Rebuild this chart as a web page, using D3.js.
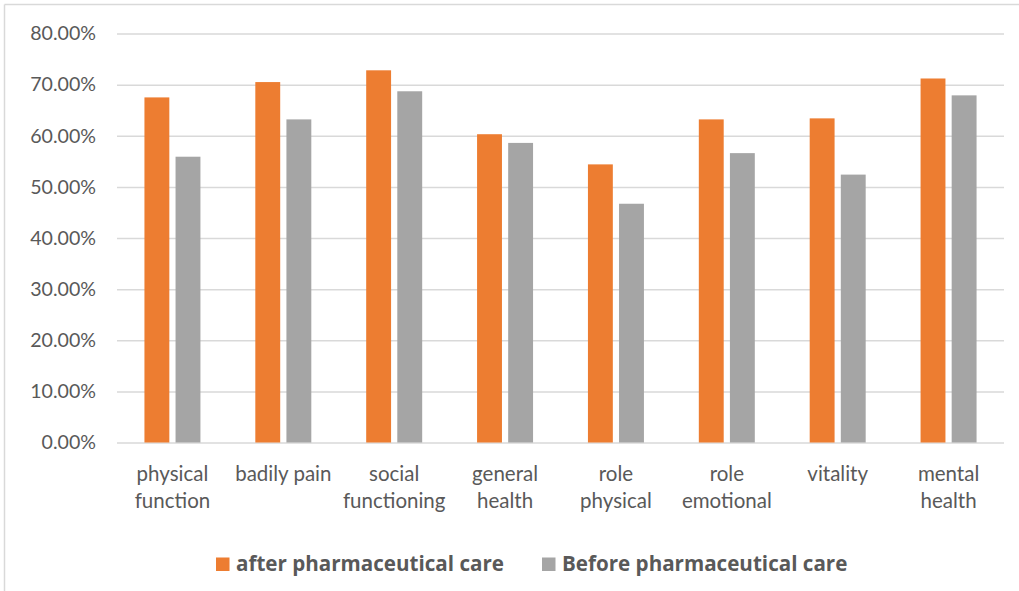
<!DOCTYPE html>
<html>
<head>
<meta charset="utf-8">
<script src="https://cdn.jsdelivr.net/npm/d3@7"></script>
<style>
  html, body { margin: 0; padding: 0; background: #fff; }
  svg { display: block; }
  text { font-family: Lato, "Liberation Sans", sans-serif; }
</style>
</head>
<body>
<svg id="chart" width="1019" height="591"></svg>
<script>
// SF-36 domains (line breaks mark where the axis label wraps)
const categories = [
  "physical\nfunction", "badily pain", "social\nfunctioning", "general\nhealth",
  "role\nphysical", "role\nemotional", "vitality", "mental\nhealth"
];
const seriesNames = ["after pharmaceutical care", "Before pharmaceutical care"];
const afterCare  = [0.675, 0.705, 0.728, 0.603, 0.544, 0.632, 0.634, 0.712];
const beforeCare = [0.559, 0.632, 0.687, 0.586, 0.467, 0.566, 0.524, 0.679];
const yTicks = [0, 0.1, 0.2, 0.3, 0.4, 0.5, 0.6, 0.7, 0.8];
const colors = ["#ED7D31", "#A5A5A5"];

const rows = categories.map((c, i) => ({ cat: c, values: [afterCare[i], beforeCare[i]] }));

const svg = d3.select("#chart");
const plot = { left: 117, right: 1004, top: 33.5, bottom: 442.5 };

// frame edges
svg.append("line").attr("x1", 4.5).attr("x2", 1019).attr("y1", 4.5).attr("y2", 4.5)
  .attr("stroke", "#d9d9d9").attr("stroke-width", 1.5);
svg.append("line").attr("x1", 4.5).attr("x2", 4.5).attr("y1", 4.5).attr("y2", 591)
  .attr("stroke", "#d9d9d9").attr("stroke-width", 1.5);

const x0 = d3.scaleBand().domain(categories).range([plot.left, plot.right])
  .paddingInner(0.495).paddingOuter(0.2475);
const x1 = d3.scaleBand().domain(seriesNames).range([0, x0.bandwidth()]).paddingInner(0.2);
const y = d3.scaleLinear().domain([0, 0.8]).range([plot.bottom, plot.top]);

// gridlines
const grid = svg.append("g").attr("transform", `translate(${plot.left},0)`)
  .call(d3.axisLeft(y).tickValues(yTicks).tickSize(-(plot.right - plot.left)).tickFormat(""));
grid.select(".domain").remove();
grid.selectAll("line").attr("stroke", "#d9d9d9").attr("stroke-width", 1.5);

// y axis labels
const yAxis = svg.append("g").attr("transform", `translate(96,0)`)
  .call(d3.axisLeft(y).tickValues(yTicks).tickSize(0).tickPadding(0).tickFormat(d3.format(".2%")));
yAxis.select(".domain").remove();
yAxis.selectAll("text").attr("fill", "#595959").style("font-size", "19.6px")
  .style("font-family", "Lato, 'Liberation Sans', sans-serif");

// bars
const groups = svg.append("g").selectAll("g").data(rows).join("g")
  .attr("transform", d => `translate(${x0(d.cat)},0)`);
groups.selectAll("rect").data(d => d.values.map((v, k) => ({ key: seriesNames[k], v, k })))
  .join("rect")
  .attr("x", d => x1(d.key))
  .attr("width", x1.bandwidth())
  .attr("y", d => y(d.v))
  .attr("height", d => y(0) - y(d.v))
  .attr("fill", d => colors[d.k]);

// x axis labels
const xAxis = svg.append("g").attr("transform", `translate(0,${plot.bottom})`)
  .call(d3.axisBottom(x0).tickSize(0).tickFormat(""));
xAxis.select(".domain").remove();
xAxis.selectAll(".tick").each(function (d) {
  const t = d3.select(this).append("text")
    .attr("fill", "#595959").attr("text-anchor", "middle")
    .style("font-size", "20.5px");
  d.split("\n").forEach((line, i) => {
    t.append("tspan").attr("x", 0).attr("y", 38 + i * 27.5).text(line);
  });
});

// legend
const legendX = [216, 542];
const legend = svg.append("g");
seriesNames.forEach((name, k) => {
  legend.append("rect").attr("x", legendX[k]).attr("y", 557.5).attr("width", 13.5).attr("height", 13.5)
    .attr("fill", colors[k]);
  legend.append("text").attr("x", legendX[k] + 20).attr("y", 571)
    .attr("fill", "#595959").style("font-size", "20.6px").style("font-weight", "bold")
    .style("font-family", "'Open Sans', Lato, sans-serif").text(name);
});
</script>
</body>
</html>
